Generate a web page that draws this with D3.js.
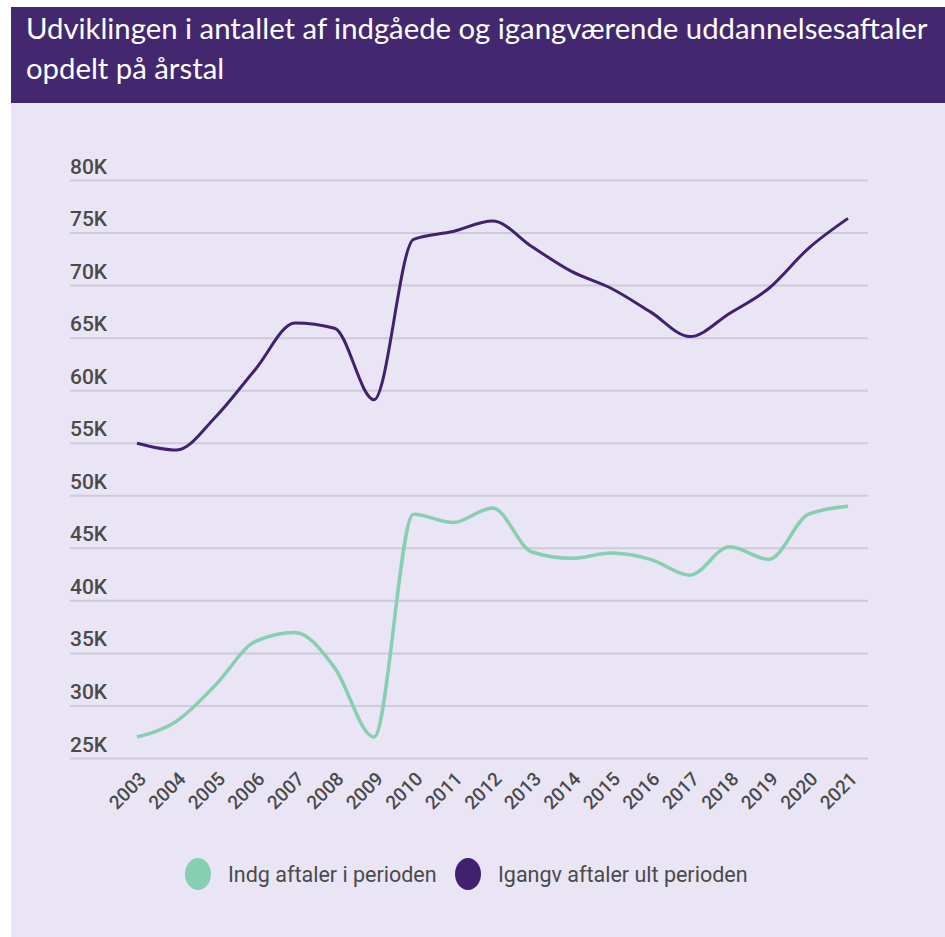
<!DOCTYPE html>
<html lang="da">
<head>
<meta charset="utf-8">
<script src="https://d3js.org/d3.v7.min.js"></script>
<style>
  body { margin: 0; background: #fff; }
</style>
</head>
<body>
<script>
// data
var years = ["2003","2004","2005","2006","2007","2008","2009","2010","2011","2012",
             "2013","2014","2015","2016","2017","2018","2019","2020","2021"];
var indgAftaler = [27000, 28500, 32000, 36100, 36950, 33600, 27000, 48200, 47400, 48800,
                   44600, 44000, 44500, 43900, 42400, 45100, 43900, 48200, 48950];
var igangvAftaler = [54950, 54300, 57500, 62000, 66400, 65900, 59100, 74350, 75100, 76100,
                     73650, 71300, 69700, 67450, 65100, 67300, 69700, 73500, 76350];
var yTicks = [25000, 30000, 35000, 40000, 45000, 50000, 55000, 60000, 65000, 70000, 75000, 80000];
var seriesNames = ["Indg aftaler i perioden", "Igangv aftaler ult perioden"];
var seriesColors = ["#86cfb1", "#41206f"];

var w = 945, h = 937;

var svg = d3.select("body").append("svg")
  .attr("width", w)
  .attr("height", h);

// panel backgrounds
svg.append("rect").attr("x", 11).attr("y", 103).attr("width", w - 11).attr("height", h - 103)
  .attr("fill", "#e9e5f4");
svg.append("rect").attr("x", 11).attr("y", 7).attr("width", w - 11).attr("height", 96)
  .attr("fill", "#43286f");

// title
var title = svg.append("g").attr("font-family", "Lato, sans-serif").attr("font-size", 29)
  .attr("fill", "#ffffff");
var t1 = title.append("text").attr("x", 0).attr("y", 39)
  .text("Udviklingen i antallet af indgåede og igangværende uddannelsesaftaler");
title.append("text").attr("x", 0).attr("y", 79).text("opdelt på årstal");
var k = 902 / t1.node().getComputedTextLength();
title.attr("transform", "translate(26,0) scale(" + k + ",1)");

// scales
var xScale = d3.scalePoint().domain(years).range([137, 848]);
var yScale = d3.scaleLinear().domain([25000, 80000]).range([758, 180]);

// gridlines + y labels
var yAxis = d3.axisLeft(yScale)
  .tickValues(yTicks)
  .tickSize(-(868 - 70))
  .tickFormat(function(d) { return (d / 1000) + "K"; });

var gy = svg.append("g")
  .attr("transform", "translate(70,0)")
  .call(yAxis);
gy.select(".domain").remove();
gy.selectAll(".tick line").attr("stroke", "#cfcad9").attr("stroke-width", 2);
gy.selectAll(".tick text")
  .attr("x", 0).attr("dy", -7)
  .attr("text-anchor", "start")
  .attr("font-family", "Roboto, sans-serif")
  .attr("font-size", 21)
  .attr("font-weight", 500)
  .attr("fill", "#4a4a4a");

// x labels
var xAxis = d3.axisBottom(xScale).tickSize(0);
var gx = svg.append("g")
  .attr("transform", "translate(0,758)")
  .call(xAxis);
gx.select(".domain").remove();
gx.selectAll(".tick text")
  .attr("text-anchor", "end")
  .attr("font-family", "Roboto, sans-serif")
  .attr("font-size", 19)
  .attr("font-weight", 500)
  .attr("fill", "#4a4a4a")
  .attr("transform", "translate(10,22) rotate(-45)")
  .attr("x", 0).attr("y", 0).attr("dy", 0);

// lines
var line = d3.line()
  .x(function(d, i) { return xScale(years[i]); })
  .y(function(d) { return yScale(d); })
  .curve(d3.curveMonotoneX);

svg.append("path").datum(igangvAftaler)
  .attr("d", line).attr("fill", "none")
  .attr("stroke", seriesColors[1]).attr("stroke-width", 3);

svg.append("path").datum(indgAftaler)
  .attr("d", line).attr("fill", "none")
  .attr("stroke", seriesColors[0]).attr("stroke-width", 3.5);

// legend
var legendX = [198, 468];
var legend = svg.selectAll(".legend")
  .data(seriesNames)
  .enter().append("g")
  .attr("class", "legend")
  .attr("transform", function(d, i) { return "translate(" + legendX[i] + ",874)"; });

legend.append("ellipse")
  .attr("rx", 13).attr("ry", 16)
  .attr("fill", function(d, i) { return seriesColors[i]; });

legend.append("text")
  .attr("x", 30).attr("dy", "0.35em")
  .attr("font-family", "Roboto, sans-serif")
  .attr("font-size", 21.5)
  .attr("fill", "#4a4a4a")
  .text(function(d) { return d; });
</script>
</body>
</html>
